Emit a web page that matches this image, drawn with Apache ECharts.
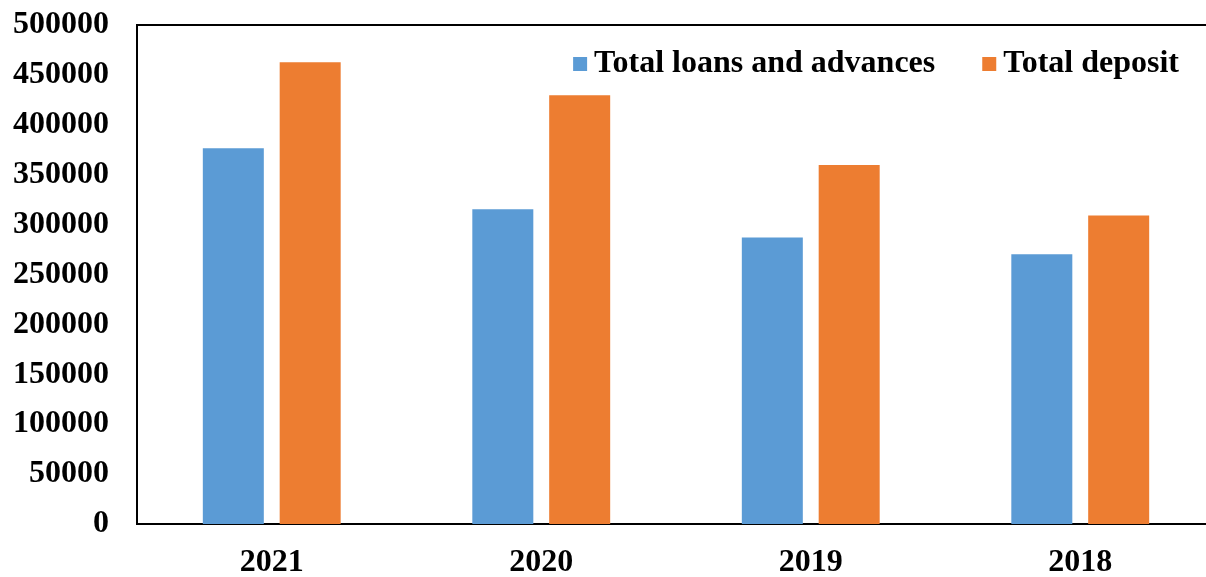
<!DOCTYPE html>
<html>
<head>
<meta charset="utf-8">
<script src="https://cdn.jsdelivr.net/npm/echarts@6/dist/echarts.min.js"></script>
<style>
  html, body { margin: 0; padding: 0; background: #fff; }
  #chart { width: 1206px; height: 577px; }
</style>
</head>
<body>
<div id="chart"></div>
<script>
// Years shown along the bottom axis
const years = ['2021', '2020', '2019', '2018'];
// Balances per year
const loansAndAdvances = [376500, 315300, 287000, 270200];
const totalDeposit = [462600, 429600, 359700, 309000];
// Series names used in the legend
const seriesNames = ['Total loans and advances', 'Total deposit'];

const font = '"Liberation Serif", "Times New Roman", serif';

const chart = echarts.init(document.getElementById('chart'), null, { renderer: 'canvas' });

chart.setOption({
  animation: false,
  backgroundColor: '#ffffff',
  grid: {
    left: 137,
    top: 25,
    width: 1078,
    height: 499,
    outerBoundsMode: 'none',
    containLabel: false,
    show: true,
    borderColor: '#000',
    borderWidth: 2,
    backgroundColor: 'transparent'
  },
  legend: {
    data: seriesNames,
    right: 27,
    top: 48,
    padding: 0,
    icon: 'rect',
    itemWidth: 14,
    itemHeight: 14,
    itemGap: 47,
    textStyle: {
      fontFamily: font,
      fontWeight: 'bold',
      fontSize: 32,
      color: '#000',
      padding: [0, 0, 0, 2]
    }
  },
  xAxis: {
    type: 'category',
    data: years,
    axisLine: { show: true, lineStyle: { color: '#000', width: 2 } },
    axisTick: { show: false },
    axisLabel: {
      fontFamily: font,
      fontWeight: 'bold',
      fontSize: 32,
      color: '#000',
      margin: 23
    },
    splitLine: { show: false }
  },
  yAxis: {
    type: 'value',
    min: 0,
    max: 500000,
    interval: 50000,
    axisLine: { show: true, lineStyle: { color: '#000', width: 2 } },
    axisTick: { show: false },
    axisLabel: {
      fontFamily: font,
      fontWeight: 'bold',
      fontSize: 32,
      color: '#000',
      margin: 28,
      formatter: (v) => String(v)
    },
    splitLine: { show: false }
  },
  series: [
    {
      name: seriesNames[0],
      type: 'bar',
      data: loansAndAdvances,
      barWidth: 61,
      barGap: '26%',
      itemStyle: { color: '#5B9BD5' }
    },
    {
      name: seriesNames[1],
      type: 'bar',
      data: totalDeposit,
      barWidth: 61,
      barGap: '26%',
      itemStyle: { color: '#ED7D31' }
    }
  ]
});
</script>
</body>
</html>
